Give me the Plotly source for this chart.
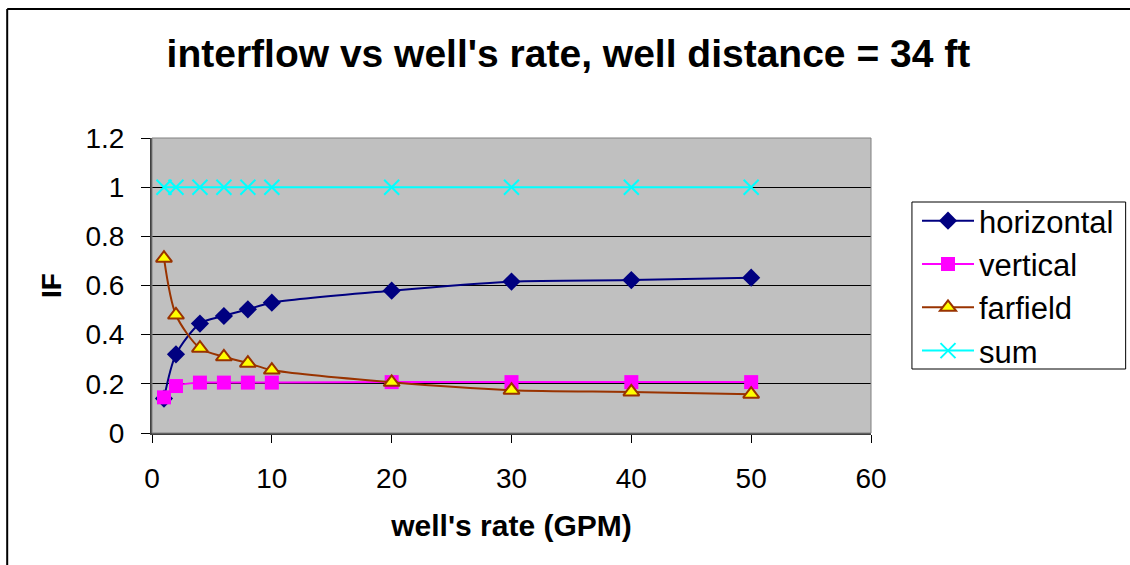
import plotly.graph_objects as go

# Pumping rate of each well (GPM)
rate = [1, 2, 4, 6, 8, 10, 20, 30, 40, 50]

# Interflow fractions by flow component
horizontal = [0.14, 0.32, 0.445, 0.476, 0.503, 0.53, 0.579, 0.616, 0.622, 0.632]
vertical = [0.145, 0.191, 0.205, 0.205, 0.205, 0.205, 0.207, 0.207, 0.207, 0.207]
farfield = [0.711, 0.48, 0.345, 0.31, 0.284, 0.256, 0.206, 0.174, 0.167, 0.158]
total = [1, 1, 1, 1, 1, 1, 1, 1, 1, 1]

FONT = "Liberation Sans, Arial, sans-serif"

fig = go.Figure()

series = [
    ("horizontal", horizontal, "#000080",
     dict(symbol="diamond", size=14, color="#000080", line=dict(width=0))),
    ("vertical", vertical, "#FF00FF",
     dict(symbol="square", size=14, color="#FF00FF", line=dict(width=0))),
    ("farfield", farfield, "#993300",
     dict(symbol="triangle-up", size=14, color="#FFFF00",
          line=dict(width=2, color="#993300"))),
    ("sum", total, "#00FFFF",
     dict(symbol="x-thin", size=15, color="#00FFFF",
          line=dict(width=2, color="#00FFFF"))),
]

for name, vals, col, marker in series:
    fig.add_trace(go.Scatter(
        x=rate, y=vals, name=name, mode="lines+markers",
        line=dict(color=col, width=2, shape="spline", smoothing=0.8),
        marker=marker, legendgroup=name,
    ))

fig.update_layout(
    width=1130, height=565,
    margin=dict(l=152, r=258, t=138, b=132),
    paper_bgcolor="white",
    plot_bgcolor="#C0C0C0",
    font=dict(family=FONT, color="black", size=28),
    title=dict(
        text="<b>interflow vs well's rate, well distance = 34 ft</b>",
        x=0.503, xanchor="center", y=0.906, yanchor="middle",
        font=dict(family=FONT, size=39, color="black"),
    ),
    xaxis=dict(
        range=[0, 60], dtick=10, tick0=0,
        showgrid=False, zeroline=False,
        showline=True, linecolor="#404040", linewidth=2, mirror=False,
        ticks="outside", ticklen=8, tickcolor="black", tickwidth=1,
        tickfont=dict(size=28), ticklabelstandoff=11,
        title=dict(text="<b>well's rate (GPM)</b>", font=dict(size=30), standoff=22),
    ),
    yaxis=dict(
        range=[0, 1.2], dtick=0.2, tick0=0,
        showgrid=True, gridcolor="black", gridwidth=1,
        zeroline=False,
        showline=True, linecolor="#404040", linewidth=2, mirror=False,
        ticks="outside", ticklen=9, tickcolor="black", tickwidth=1,
        tickfont=dict(size=28), ticklabelstandoff=11,
        title=dict(text="<b>IF</b>", font=dict(size=28), standoff=16),
    ),
    legend=dict(
        x=1.0625, xanchor="left", y=0.81, yanchor="top",
        bgcolor="rgba(0,0,0,0)", borderwidth=0,
        font=dict(size=31), tracegroupgap=0, itemwidth=52,
    ),
    showlegend=True,
)

# Plot area frame
fig.add_shape(type="rect", xref="paper", yref="paper", x0=0, y0=0, x1=1, y1=1,
              line=dict(color="#808080", width=1), layer="above")
# Legend frame
fig.add_shape(type="rect", xref="paper", yref="paper",
              x0=(913 - 152) / 720, x1=(1127 - 152) / 720,
              y0=(433 - 369) / 295, y1=(433 - 202) / 295,
              line=dict(color="black", width=1), fillcolor="white", layer="below")
# Outer chart border
fig.add_shape(type="line", xref="paper", yref="paper",
              x0=(7 - 152) / 720, x1=(7 - 152) / 720,
              y0=(132 - 600) / 295, y1=(565 - 9 - 132) / 295,
              line=dict(color="black", width=2))
fig.add_shape(type="line", xref="paper", yref="paper",
              x0=(7 - 152) / 720, x1=(1140 - 152) / 720,
              y0=(565 - 9 - 132) / 295, y1=(565 - 9 - 132) / 295,
              line=dict(color="black", width=2))

fig.write_html("out.html")
